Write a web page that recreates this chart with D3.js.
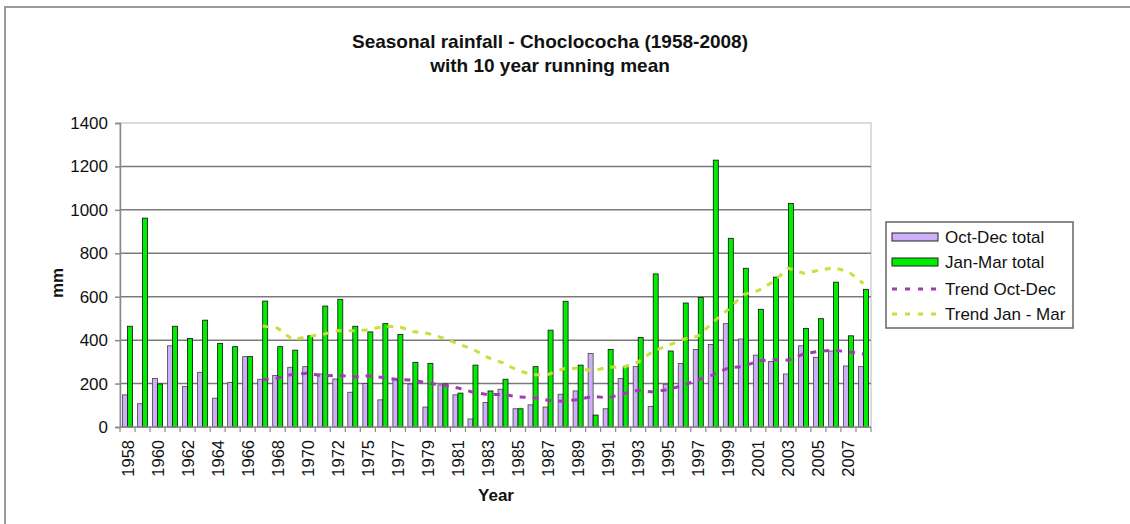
<!DOCTYPE html>
<html><head><meta charset="utf-8">
<script src="https://cdn.jsdelivr.net/npm/d3@7"></script>
<style>body{margin:0;background:#fff} svg{display:block;font-family:"Liberation Sans",Arial,sans-serif}</style>
</head><body><svg id="c" width="1130" height="524"></svg>
<script>
const years = ["1958","1959","1960","1961","1962","1963","1964","1965","1966","1967","1968","1969","1970","1971","1972","1973",
  "1975","1976","1977","1978","1979","1980","1981","1982","1983","1984","1985","1986","1987","1988","1989","1990","1991","1992",
  "1993","1994","1995","1996","1997","1998","1999","2000","2001","2002","2003","2004","2005","2006","2007","2008"];
const octDec = [148,107,223,374,186,252,133,205,324,220,237,275,278,244,221,160,200,125,220,198,92,194,148,37,113,174,84,102,92,151,
  166,339,84,223,278,95,197,293,357,380,476,405,331,301,244,374,321,350,281,278];
const janMar = [464,962,198,464,408,492,385,370,324,580,370,354,420,557,588,464,438,476,426,298,293,198,156,285,166,220,84,278,446,579,
  285,55,357,278,412,705,350,571,596,1229,869,731,542,690,1029,454,499,667,420,634];
const trendOctDec = [null,null,null,null,null,null,null,null,null,
  217,226,243,248,235,239,230,236,228,218,216,201,193,180,160,149,150,139,136,123,119,126,141,134,153,169,161,173,192,218,241,272,279,304,311,308,336,348,354,346,336];
const trendJanMar = [null,null,null,null,null,null,null,null,null,
  465,455,402,417,426,444,443,447,462,464,440,431,410,383,358,320,295,260,240,242,268,270,258,276,275,299,350,375,404,419,484,542,610,628,670,731,708,721,733,716,660];
const yTicks = [0,200,400,600,800,1000,1200,1400];
const seriesNames = ["Oct-Dec total","Jan-Mar total","Trend Oct-Dec","Trend Jan - Mar"];

const svg = d3.select("#c");
const X0 = 120, X1 = 871, Y0 = 427, Ytop = 123;
const x = d3.scaleBand().domain(years).range([X0, X1]).padding(0);
const y = d3.scaleLinear().domain([0,1400]).range([Y0, Ytop]);
const step = x.bandwidth();
const grpW = step/1.5, barW = grpW/2, off = (step-grpW)/2;

const purple = "#CFAEF8", green = "#00EC00", tPurple = "#A23CB4", tGreen = "#C8E03A";

// outer border
svg.append("rect").attr("x",5).attr("y",7).attr("width",1200).attr("height",700)
  .attr("fill","none").attr("stroke","#9a9a9a").attr("stroke-width",2);

// plot border
svg.append("rect").attr("x",X0).attr("y",Ytop).attr("width",X1-X0).attr("height",Y0-Ytop)
  .attr("fill","none").attr("stroke","#d0d0d0").attr("stroke-width",1.5);

// gridlines
svg.append("g").selectAll("line").data(yTicks.filter(d=>d>0 && d<1400)).join("line")
  .attr("x1",X0).attr("x2",X1).attr("y1",d=>y(d)).attr("y2",d=>y(d))
  .attr("stroke","#7a7a7a").attr("stroke-width",1.5);

// y axis
const ya = svg.append("g").attr("transform",`translate(${X0},0)`)
  .call(d3.axisLeft(y).tickValues(yTicks).tickFormat(d3.format("d")).tickSize(5).tickPadding(7));
ya.select(".domain").attr("stroke","#8a8a8a").attr("stroke-width",1.5);
ya.selectAll(".tick line").attr("stroke","#8a8a8a").attr("stroke-width",1.5);
ya.selectAll("text").attr("font-size",17).attr("fill","#111").attr("font-family","Liberation Sans, Arial, sans-serif");

// bars
svg.append("g").selectAll("rect").data(years).join("rect")
  .attr("x",d=>x(d)+off).attr("width",barW)
  .attr("y",(d,i)=>y(octDec[i])).attr("height",(d,i)=>Y0-y(octDec[i]))
  .attr("fill",purple).attr("stroke","#444").attr("stroke-width",0.8);
svg.append("g").selectAll("rect").data(years).join("rect")
  .attr("x",d=>x(d)+off+barW).attr("width",barW)
  .attr("y",(d,i)=>y(janMar[i])).attr("height",(d,i)=>Y0-y(janMar[i]))
  .attr("fill",green).attr("stroke","#111").attr("stroke-width",0.8);

// x axis
const xa = svg.append("g").attr("transform",`translate(0,${Y0})`);
xa.append("line").attr("x1",X0).attr("x2",X1).attr("stroke","#8a8a8a").attr("stroke-width",1.5);
xa.selectAll("line.tk").data(years.concat(["__end"])).join("line").attr("class","tk")
  .attr("x1",(d,i)=>X0+i*step).attr("x2",(d,i)=>X0+i*step).attr("y1",0).attr("y2",5)
  .attr("stroke","#8a8a8a").attr("stroke-width",1.2);
xa.selectAll("text").data(years.filter((d,i)=>i%2===0)).join("text")
  .attr("transform",d=>`translate(${x(d)+step/2+6},13) rotate(-90)`)
  .attr("text-anchor","end").attr("font-size",16.5).attr("fill","#111").text(d=>d);

// trend lines
function trend(arr,col){
  svg.append("path").attr("d",d3.line().defined(d=>d!=null)
    .x((d,i)=>x(years[i])+step/2).y(d=>y(d))(arr))
    .attr("fill","none").attr("stroke",col).attr("stroke-width",3).attr("stroke-dasharray","6,7");
}
trend(trendOctDec,tPurple);
trend(trendJanMar,tGreen);

// titles
svg.append("text").attr("x",550).attr("y",48).attr("text-anchor","middle").attr("font-weight","bold")
  .attr("font-size",19).attr("fill","#111").text("Seasonal rainfall - Choclococha (1958-2008)");
svg.append("text").attr("x",550).attr("y",72).attr("text-anchor","middle").attr("font-weight","bold")
  .attr("font-size",19).attr("fill","#111").text("with 10 year running mean");
svg.append("text").attr("transform","translate(63,283) rotate(-90)").attr("text-anchor","middle")
  .attr("font-weight","bold").attr("font-size",17).attr("fill","#111").text("mm");
svg.append("text").attr("x",496).attr("y",501).attr("text-anchor","middle")
  .attr("font-weight","bold").attr("font-size",17).attr("fill","#111").text("Year");

// legend
const lg = svg.append("g");
lg.append("rect").attr("x",886).attr("y",222).attr("width",187).attr("height",106)
  .attr("fill","#fff").attr("stroke","#666").attr("stroke-width",1.5);
const rowsY = [237,262,289,314];
seriesNames.forEach((n,i)=>{
  if(i<2){
    lg.append("rect").attr("x",892).attr("y",rowsY[i]-4).attr("width",46).attr("height",8)
      .attr("fill",i===0?purple:green).attr("stroke","#222").attr("stroke-width",1);
  } else {
    lg.append("line").attr("x1",892).attr("x2",940).attr("y1",rowsY[i]).attr("y2",rowsY[i])
      .attr("stroke",i===2?tPurple:tGreen).attr("stroke-width",3).attr("stroke-dasharray","5,8");
  }
  lg.append("text").attr("x",945).attr("y",rowsY[i]).attr("dy","0.36em").attr("font-size",17)
    .attr("fill","#111").text(n);
});
</script></body></html>
